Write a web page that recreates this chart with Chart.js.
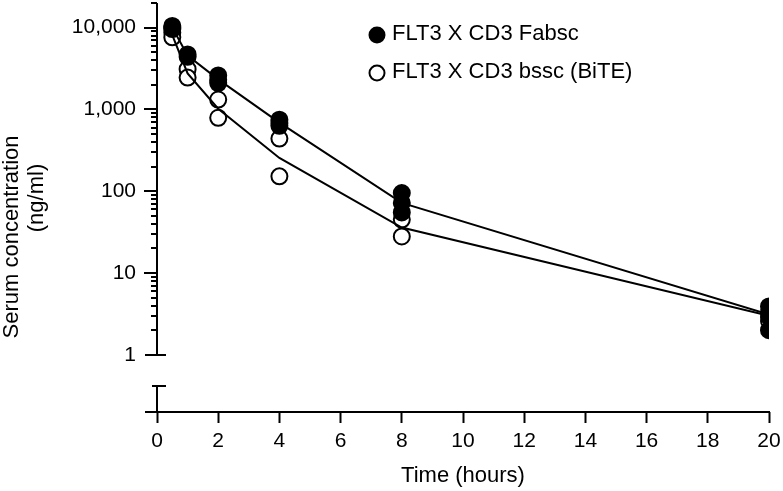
<!DOCTYPE html>
<html>
<head>
<meta charset="utf-8">
<script src="https://cdn.jsdelivr.net/npm/chart.js@4/dist/chart.umd.min.js"></script>
<style>
html,body{margin:0;padding:0;background:#fff;}
#wrap{width:783px;height:491px;position:relative;}
</style>
</head>
<body>
<div id="wrap"><canvas id="c" width="783" height="491"></canvas></div>
<script>
// ---- data ----
const seriesNames = ['FLT3 X CD3 Fabsc', 'FLT3 X CD3 bssc (BiTE)'];
const timePoints = [0.5, 1, 2, 4, 8, 20];
// individual animals, Fabsc (filled)
const fabscX = [0.5, 0.5, 0.5, 1, 1, 2, 2, 2, 4, 4, 4, 8, 8, 8, 20, 20, 20];
const fabscY = [10500, 10000, 9600, 4700, 4400, 2600, 2300, 2100, 750, 680, 630, 95, 72, 55, 3.9, 2.9, 2.0];
// individual animals, BiTE (open)
const biteX = [0.5, 0.5, 1, 1, 2, 2, 4, 4, 8, 8, 20, 20];
const biteY = [8700, 7600, 3100, 2450, 1320, 790, 440, 152, 45, 28, 3.3, 2.6];
// mean curves
const fabscMean = [10000, 4550, 2330, 690, 72, 3.1];
const biteMean = [8100, 2750, 1020, 255, 36, 3.0];
// ticks and titles
const yTickValues = [1, 10, 100, 1000, 10000];
const yMinorValues = [2,3,4,5,6,7,8,9,20,30,40,50,60,70,80,90,200,300,400,500,600,700,800,900,2000,3000,4000,5000,6000,7000,8000,9000,20000];
const xTickStep = 2;
const yTitleLines = ['Serum concentration', '(ng/ml)'];
const xTitle = 'Time (hours)';

const FONT = '"Liberation Sans", Arial, Helvetica, sans-serif';
const pts = (xs, ys) => xs.map((x, i) => ({x: x, y: ys[i]}));

const PLOT_TOP = 3;

const axisPlugin = {
  id: 'axisPlugin',
  afterLayout(chart) {
    const ys = chart.scales.y;
    ys.top = PLOT_TOP;
    ys.height = ys.bottom - PLOT_TOP;
    ys.configure();
    chart.chartArea.top = PLOT_TOP;
    chart.chartArea.height = chart.chartArea.bottom - PLOT_TOP;
  },
  afterDraw(chart) {
    const ctx = chart.ctx;
    const ys = chart.scales.y;
    const xs = chart.scales.x;
    const L = Math.round(xs.left);
    const R = Math.round(xs.right);
    const B = Math.round(ys.bottom);
    ctx.save();
    ctx.strokeStyle = '#000';
    ctx.lineWidth = 2;
    ctx.lineCap = 'butt';
    const line = (x1, y1, x2, y2) => { ctx.beginPath(); ctx.moveTo(x1, y1); ctx.lineTo(x2, y2); ctx.stroke(); };
    const top = ys.getPixelForValue(ys.max);
    const one = Math.round(ys.getPixelForValue(1));
    // upper y segment
    line(L, top, L, one);
    // major ticks
    yTickValues.forEach(v => {
      const y = Math.round(ys.getPixelForValue(v));
      if (v === 1) line(L - 12, y, L + 9, y);
      else line(L - 13, y, L, y);
    });
    yMinorValues.forEach(v => {
      const y = Math.round(ys.getPixelForValue(v));
      line(L - 6, y, L, y);
    });
    // lower y segment (axis break)
    const capY = B - 26;
    line(L, capY, L, B);
    line(L - 5, capY, L + 9, capY);
    // x axis line
    line(L - 12, B, R + 1, B);

    ctx.font = '22px ' + FONT;
    ctx.fillStyle = '#000';
    ctx.textBaseline = 'middle';
    // y-axis title (two rotated lines)
    ctx.textAlign = 'center';
    const titlePos = [{x: 12, y: 237}, {x: 37, y: 198}];
    yTitleLines.forEach((t, i) => {
      ctx.save();
      ctx.translate(titlePos[i].x, titlePos[i].y);
      ctx.rotate(-Math.PI / 2);
      ctx.fillText(t, 0, 0);
      ctx.restore();
    });
    // legend
    ctx.textAlign = 'left';
    const rows = [{y: 35, filled: true}, {y: 73, filled: false}];
    rows.forEach((r, i) => {
      ctx.beginPath();
      ctx.arc(377, r.y, 7.5, 0, Math.PI * 2);
      ctx.fillStyle = r.filled ? '#000' : '#fff';
      ctx.fill();
      ctx.stroke();
      ctx.fillStyle = '#000';
      ctx.fillText(seriesNames[i], 392, r.y - 1);
    });
    ctx.restore();
  }
};

new Chart(document.getElementById('c'), {
  type: 'scatter',
  data: {
    datasets: [
      {
        label: seriesNames[0],
        data: pts(fabscX, fabscY),
        pointRadius: 8, pointHoverRadius: 8,
        backgroundColor: '#000', borderColor: '#000', borderWidth: 2
      },
      {
        label: seriesNames[0] + ' mean',
        data: pts(timePoints, fabscMean),
        showLine: true, pointRadius: 0, borderColor: '#000', borderWidth: 2, tension: 0, fill: false
      },
      {
        label: seriesNames[1] + ' mean',
        data: pts(timePoints, biteMean),
        showLine: true, pointRadius: 0, borderColor: '#000', borderWidth: 2, tension: 0, fill: false
      },
      {
        label: seriesNames[1],
        data: pts(biteX, biteY),
        pointRadius: 8, pointHoverRadius: 8,
        backgroundColor: '#fff', borderColor: '#000', borderWidth: 2
      }
    ]
  },
  options: {
    responsive: false,
    animation: false,
    devicePixelRatio: 1,
    layout: { padding: { top: 3, right: 14, left: 0, bottom: 0 } },
    plugins: { legend: { display: false }, tooltip: { enabled: false } },
    scales: {
      x: {
        type: 'linear', min: 0, max: 20,
        afterFit: (s) => { s.height = 79; s.paddingLeft = 0; s.paddingRight = 0; },
        ticks: { stepSize: xTickStep, color: '#000', font: { family: FONT, size: 21 }, padding: 6, maxRotation: 0 },
        grid: { display: true, drawOnChartArea: false, tickLength: 11, tickWidth: 2, color: '#000' },
        border: { display: false },
        title: { display: true, text: xTitle, color: '#000', font: { family: FONT, size: 22, lineHeight: 1.15 }, padding: { top: 4, bottom: 2 } }
      },
      y: {
        type: 'logarithmic', min: 0.2, max: 20000,
        afterFit: (s) => { s.width = 157; s.paddingTop = 0; s.paddingBottom = 0; },
        afterBuildTicks: (s) => { s.ticks = yTickValues.map(v => ({ value: v })); },
        ticks: {
          color: '#000', font: { family: FONT, size: 21 }, padding: 8,
          callback: (v) => Number(v).toLocaleString('en-US')
        },
        grid: { display: true, drawOnChartArea: false, tickLength: 13, color: 'rgba(0,0,0,0)' },
        border: { display: false },
        title: { display: false }
      }
    }
  },
  plugins: [axisPlugin]
});
</script>
</body>
</html>
